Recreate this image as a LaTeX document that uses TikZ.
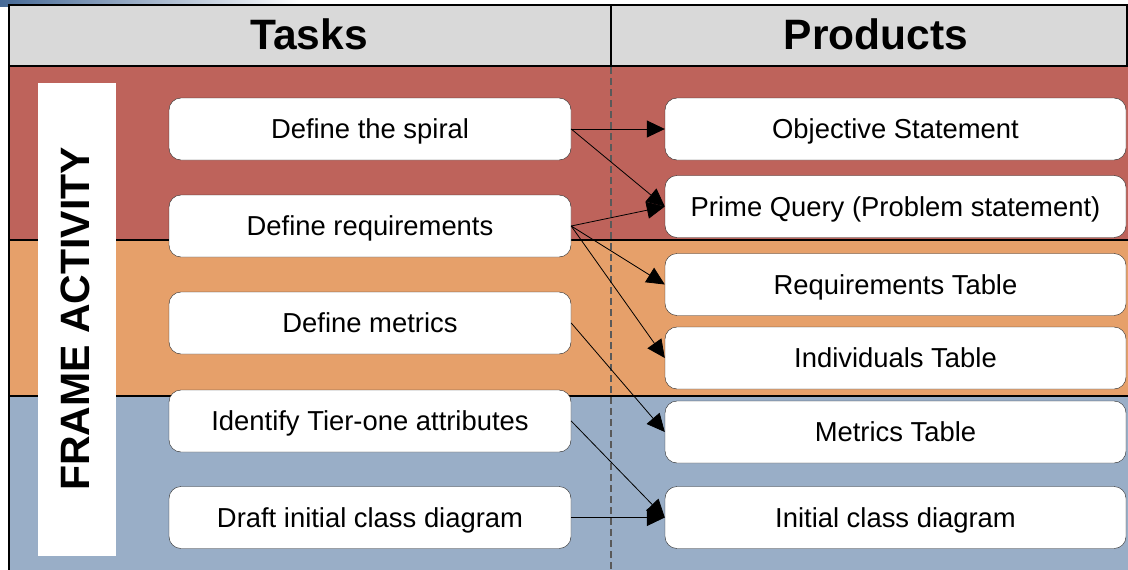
\documentclass[tikz,border=0pt]{standalone}
\usepackage{fontspec}
\setmainfont{Liberation Sans}
\usetikzlibrary{arrows.meta}
\definecolor{hdrgray}{RGB}{217,217,217}
\definecolor{redband}{RGB}{190,99,91}
\definecolor{orgband}{RGB}{230,160,106}
\definecolor{bluband}{RGB}{153,174,199}
\definecolor{slideblue}{RGB}{70,105,150}

\begin{document}
\begin{tikzpicture}[x=1pt,y=-1pt,
  task/.style={draw=black!85,fill=white,rounded corners=12pt,inner sep=0pt,
    minimum width=402pt,minimum height=62pt,text height=19.5pt,text depth=0pt,
    font=\fontsize{27.4}{31}\selectfont},
  prod/.style={task,minimum width=461pt},
  head/.style={text height=30pt,text depth=0pt,font=\fontsize{42.5}{46}\selectfont\bfseries},
  link/.style={black,line width=0.8pt,-{Triangle[length=18pt,width=17pt]}},
  band/.style={line width=2.2pt}]
\useasboundingbox (0,0) rectangle (1128,570);
\shade[left color=slideblue,right color=white] (0,0) rectangle (300,6);
\fill[redband] (9,66) rectangle (1128,240);
\fill[orgband] (9,240) rectangle (1128,396);
\fill[bluband] (9,396) rectangle (1128,570);
\draw[band,fill=hdrgray] (9,5) rectangle (1127,66);
\draw[band] (9,66) -- (9,570);
\draw[band] (9,240) -- (1128,240);
\draw[band] (9,396) -- (1128,396);
\draw[band] (611,5) -- (611,66);
\draw[black!65,line width=1.2pt,dash pattern=on 7pt off 4pt] (611,67) -- (611,570);
\node[head] (tasks) at (309,34) {Tasks};
\node[head] (products) at (876,34) {Products};
\node[fill=white,minimum width=78pt,minimum height=473pt] (framebox) at (77,319.5) {};
\node[head,rotate=90,font=\fontsize{41}{45}\selectfont\bfseries] (frame) at (74,319) {FRAME ACTIVITY};
\node[task] (spiral) at (370,129) {Define the spiral};
\node[task] (reqs) at (370,226) {Define requirements};
\node[task] (metrics) at (370,323) {Define metrics};
\node[task] (tierone) at (370,421) {Identify Tier-one attributes};
\node[task] (draft) at (370,517.5) {Draft initial class diagram};
\node[prod] (objective) at (895.5,129) {Objective Statement};
\node[prod] (prime) at (895.5,206.5) {Prime Query (Problem statement)};
\node[prod] (reqtable) at (895.5,284.5) {Requirements Table};
\node[prod] (indtable) at (895.5,358) {Individuals Table};
\node[prod] (mettable) at (895.5,432) {Metrics Table};
\node[prod] (classdiag) at (895.5,517.5) {Initial class diagram};
\draw[link] (spiral.east) -- (objective.west);
\draw[link] (spiral.east) -- (prime.west);
\draw[link] (reqs.east) -- (prime.west);
\draw[link] (reqs.east) -- (reqtable.west);
\draw[link] (reqs.east) -- (indtable.west);
\draw[link] (metrics.east) -- (mettable.west);
\draw[link] (tierone.east) -- (classdiag.west);
\draw[link] (draft.east) -- (classdiag.west);
\end{tikzpicture}
\end{document}
